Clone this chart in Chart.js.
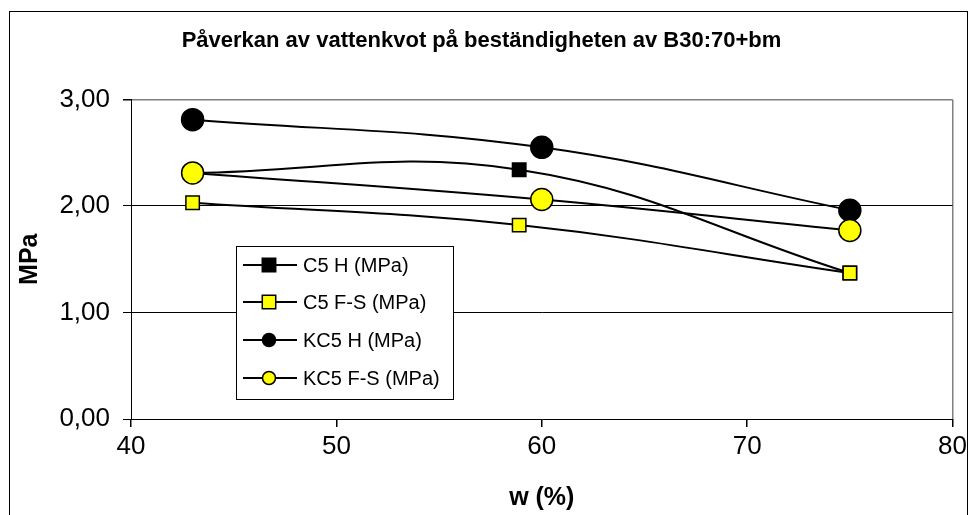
<!DOCTYPE html>
<html>
<head>
<meta charset="utf-8">
<script src="https://cdn.jsdelivr.net/npm/chart.js@4.4.1/dist/chart.umd.min.js"></script>
<style>
  html, body { margin: 0; padding: 0; background: #fff; }
  canvas { display: block; }
</style>
</head>
<body>
<canvas id="chart" width="971" height="515"></canvas>
<script>
// w (%) values
const xC5 = [43, 58.9, 75];
const xKC5 = [43, 60, 75];

// MPa values
const c5H = [2.31, 2.34, 1.37];
const c5FS = [2.03, 1.82, 1.37];
const kc5H = [2.81, 2.55, 1.96];
const kc5FS = [2.31, 2.06, 1.77];

const seriesLabels = ['C5 H (MPa)', 'C5 F-S (MPa)', 'KC5 H (MPa)', 'KC5 F-S (MPa)'];
const yTicks = [0, 1, 2, 3];
const xTicks = [40, 50, 60, 70, 80];

const FONT = '"Liberation Sans", Arial, sans-serif';

function toPoints(xs, ys) {
    return xs.map((x, i) => ({ x: x, y: ys[i] }));
}

function makeSeries(idx, xs, ys, style, fill, radius) {
    return {
        label: seriesLabels[idx],
        data: toPoints(xs, ys),
        borderColor: '#000',
        borderWidth: 2,
        tension: 0.4,
        pointStyle: style,
        pointRadius: radius,
        pointBackgroundColor: fill,
        pointBorderColor: '#000',
        pointBorderWidth: 1.5,
        order: 4 - idx,   // later series on top, like the original
        legendRadius: style === 'circle' ? 6.5 : radius
    };
}

// white box with the line + marker samples
const boxLegend = {
    id: 'boxLegend',
    afterDraw(chart) {
        const ctx = chart.ctx;
        const left = 236, top = 246, right = 453, bottom = 399;
        ctx.save();
        ctx.fillStyle = '#fff';
        ctx.fillRect(left, top, right - left, bottom - top);
        ctx.strokeStyle = '#000';
        ctx.lineWidth = 1;
        ctx.strokeRect(left + 0.5, top + 0.5, right - left, bottom - top);

        const rowY = [265, 302, 340, 378];
        chart.data.datasets.forEach((ds, i) => {
            const y = rowY[i];
            ctx.strokeStyle = '#000';
            ctx.lineWidth = 2;
            ctx.beginPath();
            ctx.moveTo(243, y);
            ctx.lineTo(297, y);
            ctx.stroke();

            ctx.fillStyle = ds.pointBackgroundColor;
            ctx.strokeStyle = '#000';
            ctx.lineWidth = 1.5;
            Chart.helpers.drawPoint(ctx, {
                pointStyle: ds.pointStyle,
                radius: ds.legendRadius,
                borderWidth: 1.5,
                rotation: 0
            }, 269, y);

            ctx.fillStyle = '#000';
            ctx.font = '20px ' + FONT;
            ctx.textAlign = 'left';
            ctx.textBaseline = 'middle';
            ctx.fillText(ds.label, 303, y + 1);
        });
        ctx.restore();
    }
};

// thin frame around the whole chart
const outerFrame = {
    id: 'outerFrame',
    afterDraw(chart) {
        const ctx = chart.ctx;
        ctx.save();
        ctx.strokeStyle = '#000';
        ctx.lineWidth = 1;
        ctx.strokeRect(9.5, 11.5, 958, 520);
        ctx.restore();
    }
};

const ctx = document.getElementById('chart').getContext('2d');
new Chart(ctx, {
    type: 'line',
    data: {
        datasets: [
            makeSeries(0, xC5, c5H, 'rect', '#000', 9.5),
            makeSeries(1, xC5, c5FS, 'rect', '#ffff00', 9.5),
            makeSeries(2, xKC5, kc5H, 'circle', '#000', 11),
            makeSeries(3, xKC5, kc5FS, 'circle', '#ffff00', 11)
        ]
    },
    plugins: [boxLegend, outerFrame],
    options: {
        responsive: false,
        animation: false,
        layout: { padding: { left: 10, right: 18, top: 12, bottom: 0 } },
        plugins: {
            legend: { display: false },
            tooltip: { enabled: false },
            title: {
                display: true,
                text: 'Påverkan av vattenkvot på beständigheten av B30:70+bm',
                color: '#000',
                font: { family: FONT, size: 22, weight: 'bold' },
                padding: { top: 16, bottom: 45 }
            }
        },
        scales: {
            x: {
                type: 'linear',
                min: xTicks[0],
                max: xTicks[xTicks.length - 1],
                afterBuildTicks(scale) {
                    scale.ticks = xTicks.map(v => ({ value: v }));
                },
                afterFit(scale) { scale.height = 96; },
                border: { color: '#000', width: 1 },
                grid: {
                    color: c => c.tick && c.tick.value === 80 ? '#808080' : 'rgba(0,0,0,0)',
                    lineWidth: 1.5,
                    tickColor: '#000',
                    tickLength: 8,
                    drawTicks: true
                },
                ticks: {
                    color: '#000',
                    font: { family: FONT, size: 26 },
                    padding: 4,
                    maxRotation: 0
                },
                title: {
                    display: true,
                    text: 'w (%)',
                    color: '#000',
                    font: { family: FONT, size: 25, weight: 'bold' },
                    padding: { top: 0, bottom: 2 }
                }
            },
            y: {
                type: 'linear',
                min: yTicks[0],
                max: yTicks[yTicks.length - 1],
                afterBuildTicks(scale) {
                    scale.ticks = yTicks.map(v => ({ value: v }));
                },
                afterFit(scale) { scale.width = 121; },
                border: { color: '#000', width: 1 },
                grid: {
                    color: c => c.tick && c.tick.value === 3 ? '#808080' : (c.tick && c.tick.value === 0 ? 'rgba(0,0,0,0)' : '#000'),
                    lineWidth: c => c.tick && c.tick.value === 3 ? 1.5 : 1,
                    tickColor: '#000',
                    tickLength: 8
                },
                ticks: {
                    color: '#000',
                    font: { family: FONT, size: 26 },
                    padding: 13,
                    callback: v => v.toFixed(2).replace('.', ',')
                },
                title: {
                    display: true,
                    text: 'MPa',
                    color: '#000',
                    font: { family: FONT, size: 25, weight: 'bold' },
                    padding: { top: 5, bottom: 0 }
                }
            }
        }
    }
});
</script>
</body>
</html>
